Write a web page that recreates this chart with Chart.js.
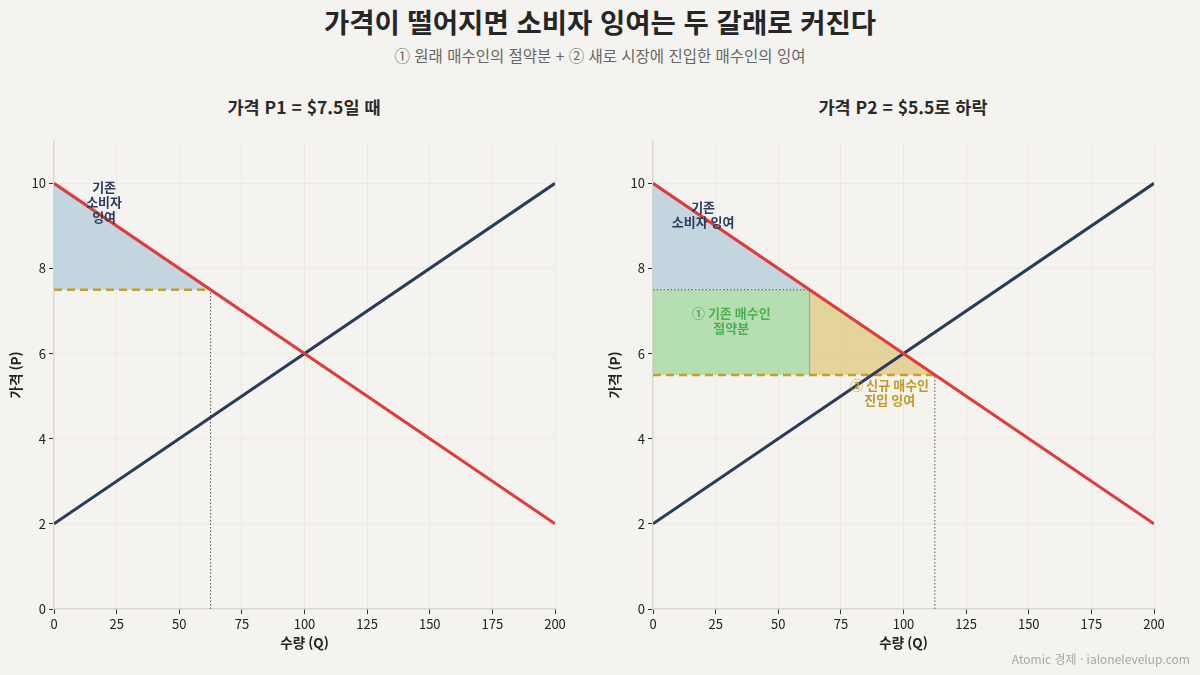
<!DOCTYPE html>
<html lang="ko">
<head>
    <meta charset="UTF-8">
    <title>소비자 잉여</title>
    <script src="https://cdn.jsdelivr.net/npm/chart.js"></script>
    <style>
        body {
            margin: 0;
            width: 1200px;
            height: 675px;
            background: #f4f3ef;
            font-family: 'Noto Sans CJK KR', 'Noto Sans', sans-serif;
            position: relative;
            overflow: hidden;
            color: #2a2a2a;
        }
        .title {
            position: absolute; left: 0; width: 1200px; top: 1px;
            text-align: center; font-size: 27.5px; font-weight: 700; color: #262626;
        }
        .subtitle {
            position: absolute; left: 0; width: 1200px; top: 44px;
            text-align: center; font-size: 15.5px; color: #666;
        }
        .panel-title {
            position: absolute; top: 94px; width: 400px;
            text-align: center; font-size: 17.5px; font-weight: 700; color: #2a2a2a;
        }
        .wrap { position: absolute; top: 130px; width: 600px; height: 545px; }
        .footer {
            position: absolute; right: 10px; top: 650px;
            font-size: 12px; color: #a8a8a8;
        }
    </style>
</head>
<body>
    <div class="title">가격이 떨어지면 소비자 잉여는 두 갈래로 커진다</div>
    <div class="subtitle">① 원래 매수인의 절약분 + ② 새로 시장에 진입한 매수인의 잉여</div>
    <div class="panel-title" style="left:104px">가격 P1 = $7.5일 때</div>
    <div class="panel-title" style="left:703px">가격 P2 = $5.5로 하락</div>
    <div class="wrap" style="left:0"><canvas id="leftChart"></canvas></div>
    <div class="wrap" style="left:599px"><canvas id="rightChart"></canvas></div>
    <div class="footer">Atomic 경제 · ialonelevelup.com</div>

    <script>
        // 수요/공급 (양 끝점)
        const qEnds = [0, 200];
        const demandP = [10, 2];
        const supplyP = [2, 10];
        // 가격과 그때의 수요량
        const P1 = 7.5, Q1 = 62.5;
        const P2 = 5.5, Q2 = 112.5;
        const xTicks = [0, 25, 50, 75, 100, 125, 150, 175, 200];
        const yTicks = [0, 2, 4, 6, 8, 10];

        const RED = "#e03b3b", NAVY = "#2b3b5b", GOLD = "#c4a02a";
        const BLUE_FILL = "rgba(165,195,215,0.62)";
        const GREEN_FILL = "rgba(130,205,130,0.55)";
        const GOLD_FILL = "rgba(220,190,105,0.62)";

        Chart.defaults.font.family = "'Noto Sans CJK KR', 'Noto Sans', sans-serif";
        Chart.defaults.color = "#222";

        const pts = (xs, ys) => xs.map((x, i) => ({ x, y: ys[i] }));
        const demandAt = q => demandP[0] + (demandP[1] - demandP[0]) * (q - qEnds[0]) / (qEnds[1] - qEnds[0]);

        function line(data, color, width, dash, order) {
            return { data, borderColor: color, borderWidth: width, borderDash: dash || [],
                     pointRadius: 0, fill: false, order: order, tension: 0 };
        }
        function area(data, toValue, color, order) {
            return { data, backgroundColor: color, borderWidth: 0, pointRadius: 0,
                     fill: { value: toValue }, order: order };
        }

        // 텍스트 주석 (데이터 좌표 기준)
        const labelPlugin = {
            id: "labels",
            afterDatasetsDraw(chart, args, opts) {
                const ctx = chart.ctx, xs = chart.scales.x, ys = chart.scales.y;
                (opts.items || []).forEach(it => {
                    ctx.save();
                    ctx.font = "700 13px 'Noto Sans CJK KR'";
                    ctx.fillStyle = it.color;
                    ctx.textAlign = "center";
                    ctx.textBaseline = "middle";
                    const cx = xs.getPixelForValue(it.q), cy = ys.getPixelForValue(it.p);
                    const lh = 15;
                    it.text.forEach((t, i) => ctx.fillText(t, cx, cy + (i - (it.text.length - 1) / 2) * lh));
                    ctx.restore();
                });
            }
        };

        function makeOptions(items) {
            return {
                responsive: false,
                animation: false,
                layout: { padding: { top: 8, right: 45, left: 0, bottom: 0 } },
                plugins: { legend: { display: false }, tooltip: { enabled: false }, labels: { items } },
                scales: {
                    x: {
                        type: "linear", min: 0, max: 200,
                        afterBuildTicks: s => { s.ticks = xTicks.map(v => ({ value: v })); },
                        afterFit: s => { s.height = 66; },
                        ticks: { font: { size: 13 }, padding: 2, color: "#222" },
                        grid: { color: "rgba(220,218,190,0.35)", tickColor: "#333", tickLength: 5 },
                        border: { color: "#d9d7cf", width: 1.2 },
                        title: { display: true, text: "수량 (Q)", font: { size: 13.5, weight: "bold" }, padding: { bottom: 24 } }
                    },
                    y: {
                        min: 0, max: 11,
                        afterBuildTicks: s => { s.ticks = yTicks.map(v => ({ value: v })); },
                        afterFit: s => { s.width = 54; },
                        ticks: { font: { size: 13 }, padding: 3, color: "#222" },
                        grid: { color: "rgba(220,218,200,0.35)", tickColor: "#333", tickLength: 5 },
                        border: { color: "#d9d7cf", width: 1.2 },
                        title: { display: true, text: "가격 (P)", font: { size: 13.5, weight: "bold" }, padding: { top: 8 } }
                    }
                }
            };
        }

        const demand = pts(qEnds, demandP);
        const supply = pts(qEnds, supplyP);
        const dotted = [1.5, 2];

        // 왼쪽: P1
        const c1 = document.getElementById("leftChart");
        c1.width = 600; c1.height = 545;
        new Chart(c1, {
            type: "line",
            data: {
                datasets: [
                    line(demand, RED, 3, null, 1),
                    line(supply, NAVY, 3, null, 2),
                    line([{ x: 0, y: P1 }, { x: Q1, y: P1 }], GOLD, 2.5, [8, 5], 3),
                    line([{ x: Q1, y: 0 }, { x: Q1, y: P1 }], "#555", 1, dotted, 4),
                    area([{ x: 0, y: demandAt(0) }, { x: Q1, y: P1 }], P1, BLUE_FILL, 10)
                ]
            },
            options: makeOptions([
                { q: 20, p: 9.55, text: ["기존", "소비자", "잉여"], color: NAVY }
            ]),
            plugins: [labelPlugin]
        });

        // 오른쪽: P2
        const c2 = document.getElementById("rightChart");
        c2.width = 600; c2.height = 545;
        new Chart(c2, {
            type: "line",
            data: {
                datasets: [
                    line(demand, RED, 3, null, 1),
                    line(supply, NAVY, 3, null, 2),
                    line([{ x: 0, y: P2 }, { x: Q2, y: P2 }], GOLD, 2.5, [8, 5], 3),
                    line([{ x: Q2, y: 0 }, { x: Q2, y: P2 }], "#555", 1, dotted, 4),
                    line([{ x: 0, y: P1 }, { x: Q1, y: P1 }], "#4a5a6a", 1, dotted, 5),
                    line([{ x: Q1, y: P2 }, { x: Q1, y: P1 }], "rgba(110,175,90,0.8)", 1.2, null, 6),
                    area([{ x: 0, y: demandAt(0) }, { x: Q1, y: P1 }], P1, BLUE_FILL, 10),
                    area([{ x: 0, y: P1 }, { x: Q1, y: P1 }], P2, GREEN_FILL, 11),
                    area([{ x: Q1, y: P1 }, { x: Q2, y: P2 }], P2, GOLD_FILL, 12)
                ]
            },
            options: makeOptions([
                { q: 20, p: 9.27, text: ["기존", "소비자 잉여"], color: NAVY },
                { q: 31.25, p: 6.78, text: ["① 기존 매수인", "절약분"], color: "#4caf50" },
                { q: 94.5, p: 5.08, text: ["② 신규 매수인", "진입 잉여"], color: "#c29a1f" }
            ]),
            plugins: [labelPlugin]
        });
    </script>
</body>
</html>
